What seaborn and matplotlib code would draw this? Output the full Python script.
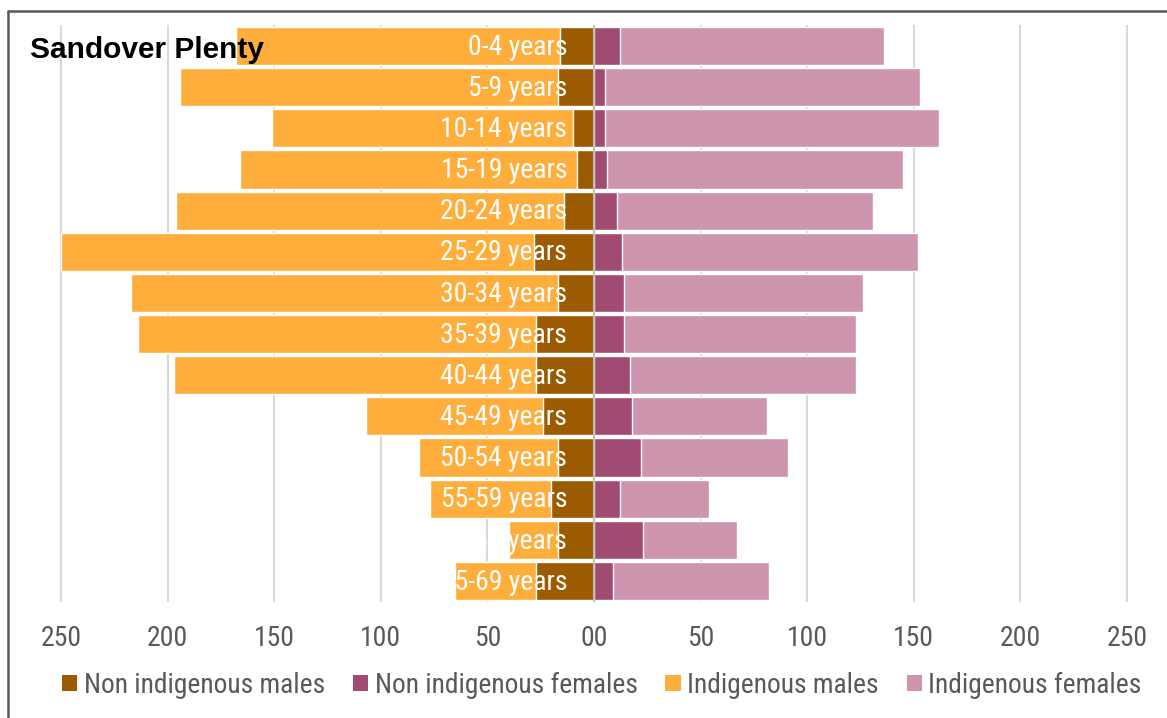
import matplotlib
matplotlib.use("Agg")
import matplotlib.pyplot as plt
from matplotlib.patches import Patch
from matplotlib.lines import Line2D
import seaborn as sns
import pandas as pd

age_groups = ["0-4 years", "5-9 years", "10-14 years", "15-19 years", "20-24 years",
              "25-29 years", "30-34 years", "35-39 years", "40-44 years", "45-49 years",
              "50-54 years", "55-59 years", "60-64 years", "65-69 years"]
indigenous_males = [168, 194, 151, 166, 196, 250, 217, 214, 197, 107, 82, 77, 40, 65]
non_indigenous_males = [16, 17, 10, 8, 14, 28, 17, 27, 27, 24, 17, 20, 17, 27]
indigenous_females = [136, 153, 162, 145, 131, 152, 126, 123, 123, 81, 91, 54, 67, 82]
non_indigenous_females = [12, 5, 5, 6, 11, 13, 14, 14, 17, 18, 22, 12, 23, 9]

tick_values = [-250, -200, -150, -100, -50, 0, 50, 100, 150, 200, 250]
tick_labels = ["250", "200", "150", "100", "50", "00", "50", "100", "150", "200", "250"]

colors = {
    "Non indigenous males": "#9C5B00",
    "Non indigenous females": "#A14A72",
    "Indigenous males": "#FFAD3B",
    "Indigenous females": "#CE95AF",
}

df = pd.DataFrame({
    "age": age_groups,
    "Indigenous males": [-v for v in indigenous_males],
    "Non indigenous males": [-v for v in non_indigenous_males],
    "Indigenous females": indigenous_females,
    "Non indigenous females": non_indigenous_females,
})

sns.set_theme(style="white")
narrow = ["Roboto Condensed", "DejaVu Sans"]
plt.rcParams["font.family"] = narrow

W, H = 1167, 718
fig = plt.figure(figsize=(W / 100, H / 100), dpi=100)
ax = fig.add_axes([29.0 / W, (H - 601.6) / H, 1130.0 / W, (601.6 - 25.4) / H])

# indigenous bars first, non-indigenous overlaid from the centre line
for ser in ["Indigenous males", "Indigenous females", "Non indigenous males", "Non indigenous females"]:
    sns.barplot(data=df, x=ser, y="age", order=age_groups, color=colors[ser],
                orient="h", width=0.927, saturation=1, ax=ax, zorder=2)

ax.set_xlim(-265, 265)
ax.set_ylim(13.5, -0.5)
ax.set_xlabel("")
ax.set_ylabel("")
ax.set_yticks([])
ax.set_xticks(tick_values)
ax.set_xticklabels(tick_labels, color="#595959", fontsize=20)
ax.tick_params(axis="x", length=0, pad=17)
for s in ax.spines.values():
    s.set_visible(False)

ax.grid(axis="x", color="#D9D9D9", linewidth=1.5, zorder=0)
ax.set_axisbelow(True)
ax.axvline(0, color="#BFBFBF", linewidth=1.5, zorder=5)

for i, lab in enumerate(age_groups):
    ax.text(-12.5, i + 0.03, lab, color="white", fontsize=20, ha="right", va="center", zorder=6)

fig.text(30 / W, 1 - 49.5 / H, "Sandover Plenty", fontsize=21.5, fontweight="bold",
         family=["Liberation Sans", "DejaVu Sans"], color="black", ha="left", va="center", zorder=10)

handles = [Patch(facecolor=colors[k], edgecolor="none", label=k)
           for k in ["Non indigenous males", "Non indigenous females", "Indigenous males", "Indigenous females"]]
fig.legend(handles=handles, loc="center", bbox_to_anchor=(602 / W, 1 - 685 / H), ncol=4,
           frameon=False, fontsize=19.8, handlelength=0.55, handleheight=0.55,
           handletextpad=0.25, columnspacing=1.0, labelcolor="#595959")

# chart frame
fig.add_artist(Line2D([8 / W, 1.0], [1 - 11 / H, 1 - 11 / H], color="#595959", linewidth=1.8,
                      transform=fig.transFigure))
fig.add_artist(Line2D([8 / W, 8 / W], [1 - 11 / H, 0], color="#595959", linewidth=1.8,
                      transform=fig.transFigure))

fig.savefig("out.png", dpi=100)
